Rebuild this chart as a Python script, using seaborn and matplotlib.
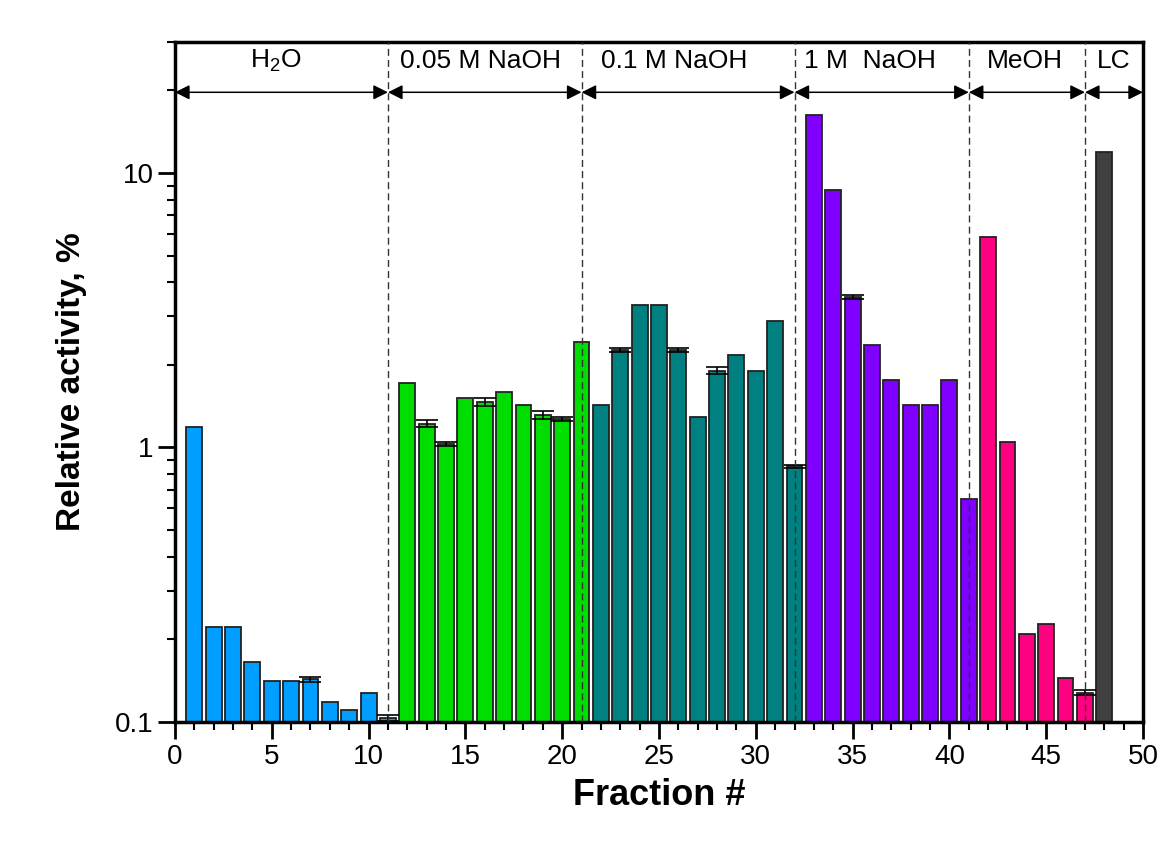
import numpy as np
import pandas as pd
import matplotlib
matplotlib.use("Agg")
import matplotlib.pyplot as plt
import seaborn as sns

# fractions and relative activity (%)
fraction = list(range(1, 49))
activity = [1.19, 0.222, 0.222, 0.165, 0.141, 0.141, 0.143, 0.118, 0.111, 0.128, 0.1036,
            1.71, 1.22, 1.03, 1.51, 1.466, 1.59, 1.43, 1.31, 1.27, 2.42,
            1.43, 2.26, 3.30, 3.30, 2.26, 1.29, 1.905, 2.17, 1.905, 2.90, 0.854,
            16.3, 8.67, 3.53, 2.36, 1.76, 1.43, 1.43, 1.76, 0.65,
            5.85, 1.05, 0.21, 0.228, 0.145, 0.128,
            11.95]
err = {7: 0.003, 11: 0.0025, 13: 0.035, 14: 0.015, 16: 0.045, 19: 0.045, 20: 0.02,
       23: 0.04, 26: 0.04, 28: 0.06, 32: 0.01, 35: 0.06, 47: 0.003}

groups = ['H2O', '0.05 M NaOH', '0.1 M NaOH', '1 M NaOH', 'MeOH', 'LC']
group_sizes = [11, 10, 11, 9, 6, 1]
group_labels = [r'H$_\mathrm{2}$O', '0.05 M NaOH', '0.1 M NaOH', '1 M  NaOH', 'MeOH', 'LC']
label_x = [5.2, 15.8, 25.8, 35.9, 43.9, 48.5]
bounds = [0, 11, 21, 32, 41, 47, 50]
colors = ['#009FFF', '#00DD00', '#008080', '#8000FF', '#FF0080', '#404040']

group = []
for g, n in zip(groups, group_sizes):
    group += [g] * n
df = pd.DataFrame({'fraction': fraction, 'activity': activity, 'group': group})

sns.set_style('ticks')
plt.rcParams['font.family'] = ['Liberation Sans', 'DejaVu Sans']
plt.rcParams['mathtext.fontset'] = 'custom'
plt.rcParams['mathtext.rm'] = 'Liberation Sans'
plt.rcParams['mathtext.it'] = 'Liberation Sans'
for k in ['text.color', 'axes.labelcolor', 'xtick.color', 'ytick.color', 'axes.edgecolor']:
    plt.rcParams[k] = 'black'

fig = plt.figure(figsize=(11.61, 8.46), dpi=100)
ax = fig.add_axes([0.1507, 0.1466, 0.8338, 0.8038])
ax.set_yscale('log')

sns.barplot(data=df, x='fraction', y='activity', hue='group', palette=colors,
            native_scale=True, dodge=False, width=0.82, errorbar=None, legend=False,
            edgecolor='#222222', linewidth=1.3, saturation=1, ax=ax)

ex = list(err.keys())
ax.errorbar(ex, [activity[i - 1] for i in ex], yerr=[err[i] for i in ex], fmt='none',
            ecolor='black', elinewidth=1.2, capsize=8, capthick=1.2, zorder=5)

# region separators, arrows and labels
for b in bounds[1:-1]:
    ax.axvline(b, color='#333333', lw=1, ls=(0, (5, 3)), zorder=6)
for i in range(len(bounds) - 1):
    ax.annotate('', xy=(bounds[i], 0.926), xytext=(bounds[i + 1], 0.926),
                xycoords=('data', 'axes fraction'),
                arrowprops=dict(arrowstyle='<|-|>', color='black', lw=1.1,
                                mutation_scale=22, shrinkA=0, shrinkB=0))
    ax.text(label_x[i], 0.972, group_labels[i], transform=ax.get_xaxis_transform(),
            ha='center', va='center', fontsize=19)

ax.set_xlim(0, 50)
ax.set_ylim(0.1, 30)
ax.set_xticks(range(0, 51, 5))
ax.set_xticks(range(0, 51), minor=True)
ax.set_yticks([0.1, 1, 10])
ax.set_yticklabels(['0.1', '1', '10'])
ax.tick_params(axis='both', which='major', labelsize=20, width=2, length=12, direction='out')
ax.tick_params(axis='both', which='minor', width=1.5, length=6, direction='out')
ax.tick_params(axis='y', which='minor', labelleft=False)
for s in ax.spines.values():
    s.set_visible(True)
    s.set_linewidth(2.5)

ax.set_xlabel('Fraction #', fontsize=26, fontweight='bold', labelpad=6)
ax.set_ylabel('Relative activity, %', fontsize=24, fontweight='bold', labelpad=20)

fig.savefig('out.png', dpi=100)
